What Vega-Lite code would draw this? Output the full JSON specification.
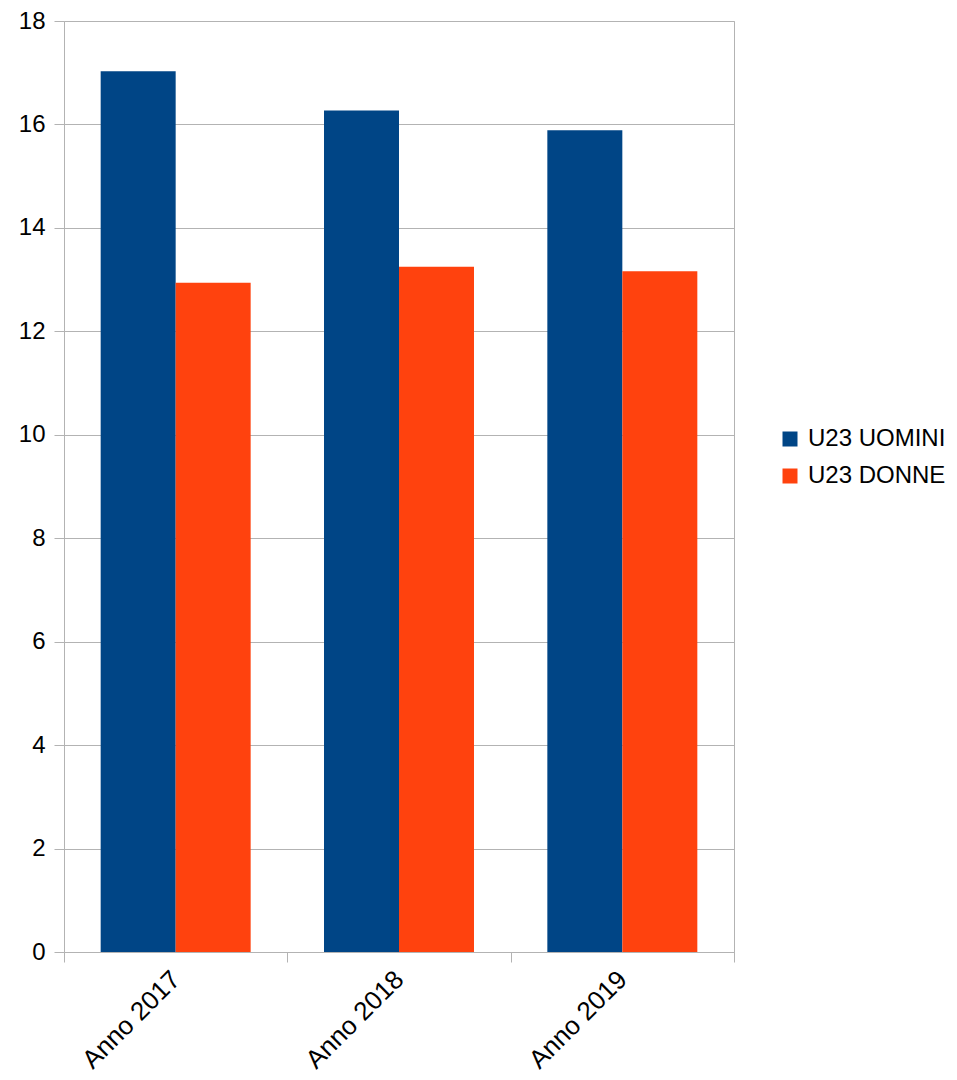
{
  "$schema": "https://vega.github.io/schema/vega-lite/v6.json",
  "width": 670,
  "height": 931,
  "autosize": "none",
  "padding": {"left": 64, "top": 21, "right": 223, "bottom": 128},
  "background": "white",
  "config": {
    "font": "Liberation Sans",
    "view": {"stroke": "#b3b3b3", "strokeWidth": 1}
  },
  "data": {
    "values": [
      {"anno": "Anno 2017", "serie": "U23 UOMINI", "valore": 17.03},
      {"anno": "Anno 2017", "serie": "U23 DONNE", "valore": 12.94},
      {"anno": "Anno 2018", "serie": "U23 UOMINI", "valore": 16.27},
      {"anno": "Anno 2018", "serie": "U23 DONNE", "valore": 13.25},
      {"anno": "Anno 2019", "serie": "U23 UOMINI", "valore": 15.89},
      {"anno": "Anno 2019", "serie": "U23 DONNE", "valore": 13.16}
    ]
  },
  "mark": {"type": "bar"},
  "encoding": {
    "x": {
      "field": "anno",
      "type": "nominal",
      "scale": {"paddingInner": 0, "paddingOuter": 0},
      "axis": {
        "title": null,
        "labelAngle": -45,
        "labelAlign": "right",
        "labelBaseline": "middle",
        "labelFontSize": 26,
        "labelColor": "#000000",
        "labelPadding": 13,
        "tickBand": "extent",
        "tickSize": 10,
        "tickColor": "#b3b3b3",
        "domainColor": "#b3b3b3",
        "grid": false
      }
    },
    "xOffset": {
      "field": "serie",
      "type": "nominal",
      "sort": ["U23 UOMINI", "U23 DONNE"],
      "scale": {"paddingInner": 0, "paddingOuter": 0.489}
    },
    "y": {
      "field": "valore",
      "type": "quantitative",
      "scale": {"domain": [0, 18], "nice": false},
      "axis": {
        "title": null,
        "values": [0, 2, 4, 6, 8, 10, 12, 14, 16, 18],
        "labelFontSize": 24,
        "labelColor": "#000000",
        "labelPadding": 9,
        "tickSize": 10,
        "tickColor": "#b3b3b3",
        "gridColor": "#b3b3b3",
        "domain": false
      }
    },
    "color": {
      "field": "serie",
      "type": "nominal",
      "sort": ["U23 UOMINI", "U23 DONNE"],
      "scale": {"domain": ["U23 UOMINI", "U23 DONNE"], "range": ["#004586", "#ff420e"]},
      "legend": {
        "title": null,
        "orient": "none",
        "legendX": 714,
        "legendY": 406,
        "symbolType": "square",
        "symbolSize": 225,
        "symbolStrokeWidth": 0,
        "symbolOpacity": 1,
        "labelFontSize": 24,
        "labelColor": "#000000",
        "labelOffset": 6,
        "rowPadding": 13
      }
    }
  }
}
